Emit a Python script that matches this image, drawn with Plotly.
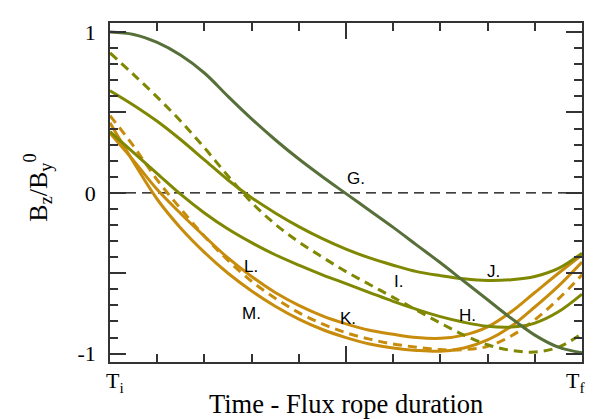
import plotly.graph_objects as go

# ---- data ----
t = [0.0, 0.05, 0.1, 0.15, 0.2, 0.25, 0.3, 0.35, 0.4, 0.45, 0.5,
     0.55, 0.6, 0.65, 0.7, 0.75, 0.8, 0.85, 0.9, 0.95, 1.0]

G = [1.0, 0.985, 0.935, 0.855, 0.745, 0.6, 0.46, 0.33, 0.21, 0.1, -0.005,
     -0.11, -0.215, -0.325, -0.435, -0.55, -0.665, -0.78, -0.885, -0.96, -0.995]
H = [0.38, 0.25, 0.12, -0.01, -0.125, -0.225, -0.31, -0.385, -0.45, -0.51, -0.565,
     -0.62, -0.675, -0.725, -0.77, -0.805, -0.83, -0.835, -0.81, -0.74, -0.63]
I = [0.87, 0.735, 0.595, 0.445, 0.28, 0.105, -0.06, -0.195, -0.305, -0.4, -0.49,
     -0.57, -0.65, -0.73, -0.81, -0.885, -0.945, -0.98, -0.99, -0.96, -0.875]
J = [0.635, 0.545, 0.445, 0.33, 0.205, 0.08, -0.03, -0.125, -0.21, -0.285, -0.35,
     -0.405, -0.45, -0.49, -0.515, -0.535, -0.545, -0.54, -0.52, -0.47, -0.375]
K = [0.37, 0.2, 0.02, -0.13, -0.27, -0.405, -0.52, -0.62, -0.7, -0.765, -0.815,
     -0.855, -0.88, -0.9, -0.905, -0.885, -0.834, -0.74, -0.62, -0.5, -0.385]
L = [0.48, 0.29, 0.08, -0.1, -0.27, -0.42, -0.55, -0.655, -0.745, -0.815, -0.87,
     -0.91, -0.94, -0.96, -0.975, -0.975, -0.955, -0.89, -0.79, -0.66, -0.51]
M = [0.435, 0.19, -0.04, -0.22, -0.37, -0.5, -0.61, -0.705, -0.785, -0.85, -0.9,
     -0.94, -0.965, -0.98, -0.985, -0.965, -0.915, -0.83, -0.71, -0.58, -0.43]

label_text = ["G.", "H.", "I.", "J.", "K.", "L.", "M."]
label_x = [0.521, 0.757, 0.611, 0.812, 0.504, 0.2985, 0.300]
label_y = [0.09, -0.761, -0.554, -0.487, -0.782, -0.456, -0.75]

x_tick_vals = [0, 1]
x_tick_text = ["T<sub>i</sub>", "T<sub>f</sub>"]
y_tick_vals = [-1, 0, 1]
y_tick_text = ["-1", "0", "1"]
y_half_ticks = [-0.5, 0.5]

DKGREEN = "#57703a"
OLIVE = "#7f8800"
ORANGE = "#c88c0c"

series = [
    (K, ORANGE, "solid"),
    (M, ORANGE, "solid"),
    (L, ORANGE, "9px,6px"),
    (J, OLIVE, "solid"),
    (H, OLIVE, "solid"),
    (I, OLIVE, "9px,6px"),
    (G, DKGREEN, "solid"),
]

fig = go.Figure()
fig.add_hline(y=0, line=dict(color="black", width=1.2, dash="10px,6px"), layer="below")
for ys, col, dash in series:
    fig.add_trace(go.Scatter(x=t, y=ys, mode="lines", showlegend=False,
                             line=dict(color=col, width=3, dash=dash, shape="spline", smoothing=1)))

for txt, lx, ly in zip(label_text, label_x, label_y):
    fig.add_annotation(x=lx, y=ly, xref="x", yref="y", text=txt, showarrow=False,
                       font=dict(family="Liberation Sans", size=17, color="black"),
                       xanchor="center", yanchor="middle")

for v, txt, sh in zip(x_tick_vals, x_tick_text, [5, -7]):
    fig.add_annotation(x=v, y=-0.011, xref="x", yref="paper", text=txt, showarrow=False,
                       xshift=sh, xanchor="center", yanchor="top",
                       font=dict(family="Liberation Serif", size=22, color="black"))

fig.add_annotation(x=0.5, y=-0.125, xref="paper", yref="paper", text="Time - Flux rope duration",
                   showarrow=False, xanchor="center", yanchor="middle",
                   font=dict(family="Liberation Serif", size=26.5, color="black"))
fig.add_annotation(x=-0.152, y=0.515, xref="paper", yref="paper",
                   text="B<sub>z</sub>/B<sub>y</sub><sup>0</sup>", textangle=-90,
                   showarrow=False, xanchor="center", yanchor="middle",
                   font=dict(family="Liberation Serif", size=26, color="black"))

LC = "#333333"
axis_common = dict(showline=True, linecolor=LC, linewidth=1.5, mirror="ticks",
                   ticks="inside", ticklen=16, tickwidth=1.5, tickcolor=LC,
                   showgrid=False, zeroline=False)
minor_common = dict(dtick=0.1, tick0=0, ticks="inside", ticklen=8, tickwidth=1.5,
                    tickcolor=LC, showgrid=False)

YR = [-1.052, 1.056]
fig.update_xaxes(range=[0, 1], tickvals=[0, 0.5, 1], showticklabels=False,
                 minor=minor_common, **axis_common)
fig.update_yaxes(range=YR, tickvals=y_tick_vals, ticktext=y_tick_text,
                 tickfont=dict(family="Liberation Serif", size=22, color="black"),
                 ticklabelstandoff=8, minor=minor_common, **axis_common)
fig.update_layout(
    yaxis2=dict(overlaying="y", side="left", range=YR, tickvals=y_half_ticks,
                showticklabels=False, ticks="inside", ticklen=16, tickwidth=1.5,
                tickcolor=LC, mirror="ticks", showline=False, showgrid=False,
                zeroline=False),
)
# invisible helper trace so the second y axis is drawn
fig.add_trace(go.Scatter(x=[None], y=[None], yaxis="y2", showlegend=False, hoverinfo="skip"))

fig.update_layout(width=593, height=419, margin=dict(l=110, r=9, t=23, b=57),
                  plot_bgcolor="white", paper_bgcolor="white")

fig.write_html("out.html", config={"displayModeBar": False},
               post_script="document.body.style.margin='0';document.body.style.padding='0';")
